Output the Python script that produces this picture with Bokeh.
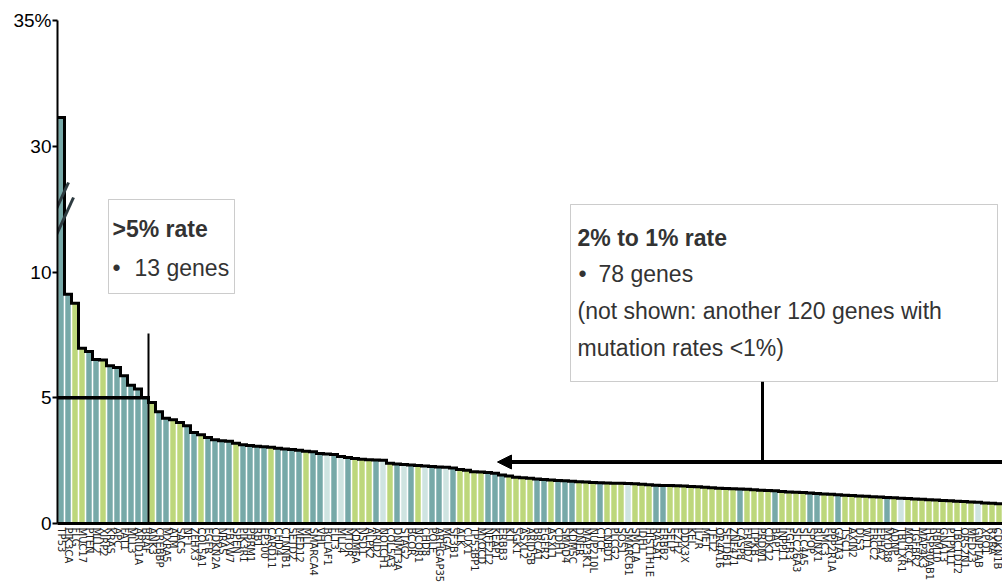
import numpy as np
from bokeh.plotting import figure
from bokeh.models import FixedTicker, Range1d, Label, BoxAnnotation, Arrow, NormalHead, ColumnDataSource
from bokeh.embed import file_html
from bokeh.resources import INLINE

genes = ["TP53", "PIK3CA", "FLG", "MUC17", "PTEN", "MLL2", "XIRP2", "KRAS", "APC", "FAT1",
         "MLL3", "ARID1A", "BRAF", "ANK3", "CREBBP", "MXRA5", "ATM", "SACS", "NF1", "ZFHX3",
         "COL5A1", "EGFR", "CDKN2A", "NRAS", "FBXW7", "SPEN", "PIK3R1", "PBRM1", "RB1", "EP300",
         "CARD11", "CHD4", "CTNNB1", "SETD2", "MED12", "MLL", "SMARCA4", "VHL", "BCLAF1", "FLT3",
         "MLL4", "MTOR", "KDM6A", "NSD1", "ALPK2", "ARID2", "NOTCH1", "COL5A3", "DNMT3A", "STAG2",
         "BCOR", "NCOR1", "CHD8", "POLE", "ARHGAP35", "MGA", "SF3B1", "ALK", "CUX1", "TP53BP1",
         "MYOCD", "NFE2L2", "KEAP1", "ERBB3", "KIT", "SGK1", "ASXL2", "ARID5B", "BRCA1", "FGFR2",
         "ASXL1", "CDH1", "SMAD4", "KDM5C", "DNER", "MAP3K1", "NUP210L", "CTCF", "CNBD1", "PLCG2",
         "SOS1", "SMARCB1", "SMC1A", "IDH1", "HIST1H1E", "RASA1", "ERBB2", "SELP", "EZH2", "DDX3X",
         "KEL", "IL7R", "MET", "TET2", "OR4A16", "SETDB1", "ZNF471", "CASP8", "FRMD7", "ITPKB",
         "PRDM1", "CDK12", "BAP1", "INPPL1", "FGFR3", "SLC26A3", "SLC4A5", "SPOP", "RUNX1", "SMC3",
         "PPP2R1A", "GATA3", "TSC1", "AXIN2", "DIS3", "WT1", "ERCC2", "EPHA2", "MYD88", "ADNP",
         "TBL1XR1", "MORC4", "TGFBR2", "MAP4K3", "HSP90AB1", "RBM10", "GNA13", "PTPN11", "TBC1D12", "OR52N1",
         "MED23", "GNPTAB", "XPO1", "RXRA", "CDKN1B"]

rates = [31.14, 9.12, 8.76, 6.97, 6.84, 6.52, 6.50, 6.27, 6.20, 5.87,
         5.50, 5.35, 5.01, 4.81, 4.44, 4.18, 4.13, 4.02, 3.89, 3.62,
         3.53, 3.42, 3.33, 3.29, 3.27, 3.19, 3.13, 3.10, 3.07, 3.05,
         3.03, 2.99, 2.96, 2.94, 2.91, 2.87, 2.85, 2.78, 2.76, 2.74,
         2.66, 2.62, 2.58, 2.55, 2.53, 2.52, 2.51, 2.40, 2.37, 2.35,
         2.33, 2.31, 2.29, 2.27, 2.25, 2.24, 2.21, 2.15, 2.12, 2.06,
         2.05, 2.03, 2.00, 1.93, 1.89, 1.84, 1.82, 1.80, 1.77, 1.75,
         1.73, 1.71, 1.70, 1.68, 1.66, 1.65, 1.63, 1.62, 1.61, 1.60,
         1.60, 1.59, 1.58, 1.56, 1.54, 1.52, 1.51, 1.51, 1.50, 1.49,
         1.47, 1.46, 1.44, 1.42, 1.40, 1.39, 1.38, 1.37, 1.36, 1.34,
         1.32, 1.31, 1.30, 1.27, 1.25, 1.24, 1.23, 1.21, 1.19, 1.17,
         1.16, 1.14, 1.12, 1.11, 1.09, 1.08, 1.06, 1.05, 1.03, 1.02,
         1.00, 0.99, 0.97, 0.96, 0.94, 0.93, 0.91, 0.90, 0.88, 0.87,
         0.85, 0.84, 0.82, 0.81, 0.79]

# t = teal, g = green, l = light
groups = list("ttggttgttt" "tttgttggtt" "gttttgtttt" "gttttgttlt"
              "ltgggtlgtl" "tgltt" "ltggggttt" "ggggttgtttgggtggglgggtt"
              "gggggggggg" "tggggtggggtt" "ggtggggggtg" "lgggggggggg" "lggg")

tick_values = [0, 5, 10, 30, 35]
tick_labels = ["0", "5", "10", "30", "35%"]

palette = {"t": "#77a9a8", "g": "#bdd77b", "l": "#cfe4e1"}

# broken axis: 10..30 compressed into 5 units
def ymap(v):
    return np.interp(v, [0, 10, 30, 35], [0, 10, 15, 20])

n = len(genes)
xs = np.arange(n)
ys = ymap(np.array(rates))
colors = [palette[g] for g in groups]

FONT = "Liberation Sans"

p = figure(width=1002, height=586, x_range=Range1d(-0.5, n - 0.5), y_range=Range1d(0, 20),
           output_backend="svg", toolbar_location=None,
           min_border_left=57, min_border_right=0, min_border_top=20, min_border_bottom=63)
p.outline_line_color = None
p.grid.visible = False
p.background_fill_color = "white"

src = ColumnDataSource(dict(x=xs, top=ys, color=colors))
p.vbar(x="x", top="top", width=0.78, fill_color="color", line_color=None, source=src)

# step outline over bar tops
sx, sy = [], []
for i, v in enumerate(ys):
    sx += [i - 0.5, i + 0.5]
    sy += [v, v]
p.line(sx, sy, line_color="black", line_width=3, line_join="miter")

# helpers to place annotations (reference pixel positions)
def px2x(px):
    return (px - 57) / 7.0 - 0.5

def px2y(py):
    return (523 - py) / 25.15

# 5% marker lines
n_high = sum(1 for r in rates if r > 5)
p.line([-0.5, n_high - 0.5], [ymap(5), ymap(5)], line_color="black", line_width=3.5)
p.line([n_high - 0.5, n_high - 0.5], [0, px2y(333)], line_color="black", line_width=2)

# break marks on the axis
p.segment(x0=[px2x(47), px2x(52)], y0=[px2y(228), px2y(243)],
          x1=[px2x(68), px2x(73)], y1=[px2y(182), px2y(197)],
          line_color="#2e3b40", line_width=3)

# boxes
p.add_layout(BoxAnnotation(left=px2x(108), right=px2x(234), top=px2y(199), bottom=px2y(293),
                           fill_color="white", fill_alpha=1, line_color="#555555", line_width=1))
p.add_layout(BoxAnnotation(left=px2x(570), right=px2x(997), top=px2y(204), bottom=px2y(381),
                           fill_color="white", fill_alpha=1, line_color="#555555", line_width=1))

def lab(x, y, text, bold=False, size=23):
    p.add_layout(Label(x=px2x(x), y=px2y(y), text=text, text_font=FONT,
                       text_font_size=f"{size}px", text_font_style="bold" if bold else "normal",
                       text_color="#333333", text_baseline="middle", text_align="left"))

lab(112, 228, ">5% rate", bold=True)
lab(112, 267, "\u2022")
lab(134, 267, "13 genes")
lab(577, 237, "2% to 1% rate", bold=True)
lab(578, 273, "\u2022")
lab(598, 273, "78 genes")
lab(577, 310, "(not shown: another 120 genes with")
lab(577, 347, "mutation rates <1%)")

# connector + arrow
p.line([px2x(762), px2x(762)], [px2y(381), px2y(461)], line_color="black", line_width=3)
p.add_layout(Arrow(end=NormalHead(size=14, fill_color="black", line_color="black"),
                   x_start=n - 0.5, y_start=px2y(461.5), x_end=px2x(497), y_end=px2y(461.5),
                   line_color="black", line_width=4))

# axes
p.yaxis.ticker = FixedTicker(ticks=[int(round(float(ymap(t)))) for t in tick_values])
p.yaxis.major_label_overrides = {int(round(float(ymap(t)))): l for t, l in zip(tick_values, tick_labels)}
p.yaxis.axis_line_width = 2
p.yaxis.axis_line_color = "black"
p.yaxis.major_tick_line_width = 2
p.yaxis.major_tick_in = 0
p.yaxis.major_tick_out = 5
p.yaxis.minor_tick_line_color = None
p.yaxis.major_label_text_font = FONT
p.yaxis.major_label_text_font_size = "19px"
p.yaxis.major_label_text_color = "black"
p.yaxis.major_label_standoff = 1

p.xaxis.ticker = FixedTicker(ticks=list(range(n)))
p.xaxis.major_label_overrides = {i: g for i, g in enumerate(genes)}
p.xaxis.major_label_orientation = "vertical"
p.xaxis.axis_line_width = 3
p.xaxis.axis_line_color = "black"
p.xaxis.major_tick_line_color = None
p.xaxis.minor_tick_line_color = None
p.xaxis.major_tick_out = 0
p.xaxis.major_tick_in = 0
p.xaxis.major_label_standoff = 4
p.xaxis.major_label_text_font = "DejaVu Sans"
p.xaxis.major_label_text_font_size = "10px"
p.xaxis.major_label_text_color = "#222222"

open("out.html", "w").write(file_html(p, INLINE))
